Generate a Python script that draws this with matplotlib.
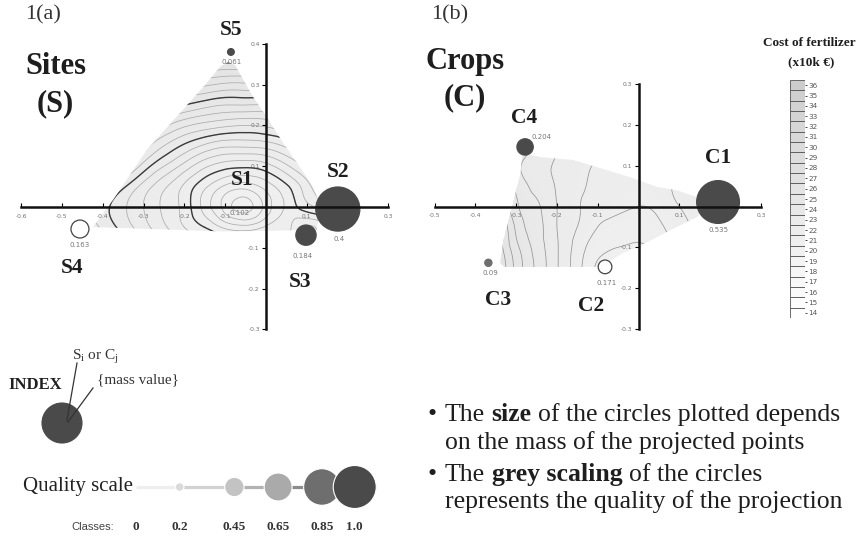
import numpy as np
import matplotlib.pyplot as plt
import matplotlib.tri as mtri
from matplotlib.patches import Polygon, Circle
from matplotlib.colors import LinearSegmentedColormap
from matplotlib.ticker import FormatStrFormatter

plt.rcParams['font.family'] = ['Liberation Serif', 'DejaVu Serif']
plt.rcParams['axes.unicode_minus'] = False
plt.rcParams['mathtext.fontset'] = 'custom'
plt.rcParams['mathtext.rm'] = 'Liberation Serif'

W, H = 867, 538

# ---------------- data ----------------
# 1(a) sites
site_names = ['S1', 'S2', 'S3', 'S4', 'S5']
site_x = [-0.065, 0.176, 0.098, -0.456, -0.086]
site_y = [0.010, -0.005, -0.069, -0.054, 0.380]
site_mass = [0.102, 0.4, 0.184, 0.163, 0.061]
site_quality = [None, 1.0, 1.0, 0.0, 1.0]   # S1 not drawn

# 1(b) crops
crop_names = ['C1', 'C2', 'C3', 'C4']
crop_x = [0.195, -0.082, -0.368, -0.278]
crop_y = [0.011, -0.148, -0.138, 0.146]
crop_mass = [0.535, 0.171, 0.09, 0.204]
crop_quality = [1.0, 0.0, 0.85, 1.0]

# cost surface, rows follow grid_a_y
grid_a_x = [-0.45, -0.40, -0.35, -0.30, -0.25, -0.20, -0.15, -0.10, -0.05, 0.00, 0.05, 0.10, 0.15]
grid_a_y = [-0.10, -0.05, 0.00, 0.05, 0.10, 0.15, 0.20, 0.25, 0.30, 0.35, 0.40]
cost_a = [
    [2.86, 2.80, 2.74, 2.68, 2.63, 2.58, 2.54, 2.53, 2.52, 2.54, 2.41, 2.31, 2.41],
    [2.80, 2.74, 2.68, 2.62, 2.56, 2.50, 2.45, 2.39, 2.37, 2.41, 2.42, 2.34, 2.42],
    [2.78, 2.72, 2.66, 2.60, 2.54, 2.48, 2.38, 2.28, 2.23, 2.32, 2.41, 2.48, 2.52],
    [2.85, 2.78, 2.71, 2.63, 2.56, 2.49, 2.41, 2.34, 2.32, 2.37, 2.44, 2.53, 2.62],
    [2.95, 2.88, 2.82, 2.73, 2.65, 2.58, 2.51, 2.47, 2.46, 2.48, 2.54, 2.61, 2.68],
    [3.06, 2.97, 2.89, 2.82, 2.75, 2.69, 2.64, 2.61, 2.61, 2.62, 2.66, 2.71, 2.77],
    [3.13, 3.06, 2.99, 2.92, 2.86, 2.81, 2.78, 2.76, 2.75, 2.76, 2.79, 2.83, 2.88],
    [3.23, 3.16, 3.09, 3.04, 2.99, 2.95, 2.92, 2.90, 2.90, 2.90, 2.93, 2.96, 3.01],
    [3.33, 3.27, 3.21, 3.16, 3.12, 3.08, 3.06, 3.04, 3.04, 3.05, 3.07, 3.10, 3.13],
    [3.44, 3.39, 3.33, 3.29, 3.25, 3.22, 3.20, 3.19, 3.19, 3.19, 3.21, 3.23, 3.27],
    [3.56, 3.51, 3.46, 3.42, 3.39, 3.36, 3.35, 3.33, 3.33, 3.34, 3.35, 3.37, 3.40],
]
domain_a_x = [-0.424, -0.375, -0.292, -0.211, -0.145, -0.113, -0.093, -0.076, -0.032,
              0.002, 0.042, 0.083, 0.115, 0.132, 0.125, -0.100]
domain_a_y = [-0.049, 0.017, 0.140, 0.230, 0.304, 0.343, 0.355, 0.348, 0.270,
              0.220, 0.157, 0.098, 0.049, 0.010, -0.056, -0.060]

# cost surface, rows follow grid_b_y
grid_b_x = [-0.40, -0.35, -0.30, -0.25, -0.20, -0.15, -0.10, -0.05, 0.00, 0.05, 0.10, 0.15, 0.20]
grid_b_y = [-0.20, -0.15, -0.10, -0.05, 0.00, 0.05, 0.10, 0.15]
cost_b = [
    [3.20, 2.90, 2.60, 2.40, 2.22, 2.03, 1.87, 1.80, 1.80, 1.86, 1.96, 2.05, 2.13],
    [3.15, 2.85, 2.57, 2.38, 2.21, 2.04, 1.88, 1.82, 1.82, 1.88, 1.98, 2.07, 2.15],
    [3.10, 2.80, 2.53, 2.36, 2.21, 2.06, 1.94, 1.90, 1.89, 1.93, 2.02, 2.10, 2.18],
    [3.00, 2.78, 2.48, 2.34, 2.20, 2.10, 2.00, 1.95, 1.93, 1.98, 2.06, 2.13, 2.20],
    [2.98, 2.68, 2.42, 2.32, 2.20, 2.11, 2.06, 2.03, 2.00, 2.03, 2.10, 2.15, 2.20],
    [2.90, 2.62, 2.38, 2.27, 2.19, 2.12, 2.08, 2.06, 2.05, 2.07, 2.12, 2.17, 2.22],
    [2.95, 2.65, 2.34, 2.25, 2.18, 2.13, 2.09, 2.08, 2.07, 2.07, 2.10, 2.14, 2.18],
    [3.05, 2.75, 2.40, 2.29, 2.21, 2.15, 2.11, 2.10, 2.09, 2.09, 2.12, 2.16, 2.20],
]
domain_b_x = [-0.285, -0.289, -0.310, -0.331, -0.339, -0.330, -0.094, -0.038, 0.000, 0.045,
              0.094, 0.143, 0.165, 0.143, 0.094, 0.045, -0.021, -0.077, -0.160, -0.241]
domain_b_y = [0.131, 0.082, 0.000, -0.082, -0.138, -0.148, -0.148, -0.114, -0.099, -0.075,
              -0.050, -0.026, 0.000, 0.023, 0.040, 0.048, 0.072, 0.089, 0.114, 0.121]

a_xticks = [-0.6, -0.5, -0.4, -0.3, -0.2, -0.1, 0.1, 0.2, 0.3]
a_yticks = [-0.3, -0.2, -0.1, 0.1, 0.2, 0.3, 0.4]
b_xticks = [-0.5, -0.4, -0.3, -0.2, -0.1, 0.1, 0.2, 0.3]
b_yticks = [-0.3, -0.2, -0.1, 0.1, 0.2, 0.3]

cost_scale = [14, 15, 16, 17, 18, 19, 20, 21, 22, 23, 24, 25,
              26, 27, 28, 29, 30, 31, 32, 33, 34, 35, 36]

quality_classes = [0, 0.2, 0.45, 0.65, 0.85, 1.0]
quality_labels = ['0', '0.2', '0.45', '0.65', '0.85', '1.0']

# ---------------- styles ----------------
class_greys = ['#ffffff', '#dadada', '#c3c3c3', '#aaaaaa', '#6e6e6e', '#4a4a4a']
segment_greys = ['#eeeeee', '#d2d2d2', '#b2b2b2', '#8c8c8c', '#6a6a6a']
fill_cmap = LinearSegmentedColormap.from_list('fill', ['#f1f1f1', '#e0e0e0'])
bar_cmap = LinearSegmentedColormap.from_list('bar', ['#ffffff', '#cdcdcd'])
INK = '#1e1e1e'

site_name_off = [(2, 16.5), (0, 26.6), (-4.3, -33.8), (-5.8, -28), (0, 15.8)]
site_mass_off = [(0, -7.2), (0.7, -21.6), (-2.2, -15.1), (0, -11.5), (0.7, -7.2)]
crop_name_off = [(0, 31.7), (-10, -28), (7.2, -26.6), (-0.7, 20.9)]
crop_mass_off = [(0, -20.2), (1.4, -11.5), (1.4, -7.2), (11.5, 7.2)]


def quality_grey(q):
    idx = int(np.argmin([abs(q - c) for c in quality_classes]))
    return class_greys[idx]


fig = plt.figure(figsize=(W / 100, H / 100), dpi=100)

# overlay in pixel coordinates for free text / legend glyphs
ov = fig.add_axes([0, 0, 1, 1])
ov.set_xlim(0, W)
ov.set_ylim(H, 0)
ov.axis('off')


def px_axes(x0, x1, y0, y1):
    return fig.add_axes([x0 / W, 1 - y1 / H, (x1 - x0) / W, (y1 - y0) / H])


def panel_axes(ox, oy, scale, xlim, ylim):
    ax = px_axes(ox + xlim[0] * scale, ox + xlim[1] * scale,
                 oy - ylim[1] * scale, oy - ylim[0] * scale)
    ax.set_xlim(xlim)
    ax.set_ylim(ylim)
    ax.patch.set_alpha(0)
    return ax


def draw_surface(ax, gx, gy, z, domx, domy, levels, bold, vmin, vmax, line_col):
    X, Y = np.meshgrid(gx, gy)
    tri = mtri.Triangulation(X.ravel(), Y.ravel())
    tri_f, z_f = mtri.UniformTriRefiner(tri).refine_field(np.ravel(z), subdiv=3)
    clip = Polygon(np.column_stack([domx, domy]), closed=True, fc='none', ec='none')
    ax.add_patch(clip)
    cf = ax.tricontourf(tri_f, z_f, levels=np.linspace(vmin - 0.5, vmax + 0.5, 60),
                        cmap=fill_cmap, vmin=vmin, vmax=vmax)
    cf.set_clip_path(clip)
    cs = ax.tricontour(tri_f, z_f, levels=levels, colors=line_col, linewidths=0.55)
    cs.set_clip_path(clip)
    if bold:
        cb = ax.tricontour(tri_f, z_f, levels=bold, colors='#3c3c3c', linewidths=1.0)
        cb.set_clip_path(clip)


def style_axes(ax, xb, yb, xticks, yticks):
    for s in ('top', 'right'):
        ax.spines[s].set_visible(False)
    for s, b in (('bottom', xb), ('left', yb)):
        ax.spines[s].set_position(('data', 0))
        ax.spines[s].set_bounds(*b)
        ax.spines[s].set_linewidth(1.8)
        ax.spines[s].set_color('#111111')
        ax.spines[s].set_zorder(3)
    ax.set_xticks(xticks)
    ax.set_yticks(yticks)
    ax.xaxis.set_major_formatter(FormatStrFormatter('%.1f'))
    ax.yaxis.set_major_formatter(FormatStrFormatter('%.1f'))
    ax.tick_params(axis='x', direction='in', length=3, width=0.8, pad=5,
                   labelsize=4.3, labelcolor='#707070', labelfontfamily='DejaVu Sans')
    ax.tick_params(axis='y', direction='out', length=3, width=0.8, pad=1.5,
                   labelsize=4.3, labelcolor='#707070', labelfontfamily='DejaVu Sans')


def draw_points(ax, names, xs, ys, mass, quality, rscale, name_off, mass_off):
    for n, x, y, m, q, no, mo in zip(names, xs, ys, mass, quality, name_off, mass_off):
        if q is not None:
            face = quality_grey(q)
            edge = '#444444' if q < 0.1 else face
            ax.add_patch(Circle((x, y), m * rscale, fc=face, ec=edge, lw=0.9, zorder=2.2))
        ax.annotate(n, (x, y), xytext=no, textcoords='offset points', ha='center',
                    va='center', fontsize=15.5, fontweight='bold', color=INK, zorder=4)
        ax.annotate(f'{m:g}', (x, y), xytext=mo, textcoords='offset points', ha='center',
                    va='center', fontsize=5, color='#777777', family='DejaVu Sans', zorder=4)


# ---------------- panel (a) ----------------
ax_a = panel_axes(266, 207, 408, (-0.62, 0.32), (-0.32, 0.42))
draw_surface(ax_a, grid_a_x, grid_a_y, cost_a, domain_a_x, domain_a_y,
             np.arange(2.25, 3.45, 0.05), [2.45, 2.70, 2.95, 3.20], 2.2, 3.5, '#ababab')
style_axes(ax_a, (-0.6, 0.3), (-0.3, 0.4), a_xticks, a_yticks)
draw_points(ax_a, site_names, site_x, site_y, site_mass, site_quality, 0.135,
            site_name_off, site_mass_off)

# ---------------- panel (b) ----------------
ax_b = panel_axes(638.5, 206.5, 408, (-0.52, 0.32), (-0.32, 0.32))
draw_surface(ax_b, grid_b_x, grid_b_y, cost_b, domain_b_x, domain_b_y,
             np.arange(1.9, 2.95, 0.1), None, 1.8, 3.0, '#959595')
style_axes(ax_b, (-0.5, 0.3), (-0.3, 0.3), b_xticks, b_yticks)
draw_points(ax_b, crop_names, crop_x, crop_y, crop_mass, crop_quality, 0.098,
            crop_name_off, crop_mass_off)

# panel titles
ov.text(43, 15, '1(a)', fontsize=16, ha='center', va='center', color='#333333')
ov.text(450, 15, '1(b)', fontsize=16, ha='center', va='center', color='#333333')
ov.text(56, 66, 'Sites', fontsize=22, fontweight='bold', ha='center', va='center', color=INK)
ov.text(55, 104, '(S)', fontsize=22, fontweight='bold', ha='center', va='center', color=INK)
ov.text(465, 62, 'Crops', fontsize=22, fontweight='bold', ha='center', va='center', color=INK)
ov.text(465, 98, '(C)', fontsize=22, fontweight='bold', ha='center', va='center', color=INK)

# ---------------- cost scale ----------------
cax = px_axes(790, 805, 80, 318)
n = len(cost_scale)
lo, hi = cost_scale[0], cost_scale[-1]
cax.bar([0] * n, [1] * n, bottom=list(range(n)), width=1,
        color=[bar_cmap((v - lo) / (hi - lo)) for v in cost_scale],
        edgecolor='#555555', linewidth=0.6)
cax.set_xlim(-0.5, 0.5)
cax.set_ylim(0, n)
cax.set_xticks([])
cax.set_yticks(np.arange(n) + 0.5, labels=[str(v) for v in cost_scale])
cax.yaxis.tick_right()
cax.tick_params(axis='y', length=1.5, width=0.5, pad=1, labelsize=5.2,
                labelcolor='#555555', labelfontfamily='DejaVu Sans')
for s in cax.spines.values():
    s.set_visible(False)
ov.text(809, 43, 'Cost of fertilizer', fontsize=9.5, fontweight='bold',
        ha='center', va='center', color=INK)
ov.text(811, 62, '(x10k €)', fontsize=9.5, fontweight='bold',
        ha='center', va='center', color=INK)

# ---------------- index legend ----------------
ov.text(35, 385, 'INDEX', fontsize=12, fontweight='bold', ha='center', va='center', color=INK)
ov.text(72, 357, r'S$_{\rm i}$ or C$_{\rm j}$', fontsize=11, ha='left', va='center', color='#333333')
ov.text(97, 380, '{mass value}', fontsize=11, ha='left', va='center', color='#333333')
ov.add_patch(Circle((62, 423), 20, fc=class_greys[-1], ec=class_greys[-1], lw=0.8))
ov.plot([77, 67], [363, 420], color='#333333', lw=0.9)
ov.plot([93, 68], [388, 422], color='#333333', lw=0.9)

# ---------------- quality scale ----------------
ov.text(23, 486, 'Quality scale', fontsize=15, ha='left', va='center', color='#222222')
qax = px_axes(114, 381, 462, 512)
qax.set_xlim(-0.1, 1.12)
qax.set_ylim(-1, 1)
qax.axis('off')
for i in range(len(quality_classes) - 1):
    qax.plot(quality_classes[i:i + 2], [0, 0], color=segment_greys[i], lw=2.3,
             solid_capstyle='butt', zorder=1)
qax.scatter(quality_classes, [0] * len(quality_classes),
            s=[(2 * 21.5 * q * 0.72) ** 2 for q in quality_classes],
            c=[quality_grey(q) for q in quality_classes],
            edgecolors='white', linewidths=0.8, zorder=2, clip_on=False)
for q, lab in zip(quality_classes, quality_labels):
    qax.text(q, -1.6, lab, fontsize=9.5, fontweight='bold', ha='center', va='center',
             color='#333333', clip_on=False)
ov.text(93, 527, 'Classes:', fontsize=8, family='Liberation Sans', ha='center',
        va='center', color='#444444')


# ---------------- notes ----------------
def rich_line(x, y, parts, size=18.5):
    t = None
    for txt, weight in parts:
        if t is None:
            t = ov.text(x, y, txt, fontsize=size, fontweight=weight, ha='left',
                        va='center', color=INK)
        else:
            t = ov.annotate(txt, xy=(1, 0), xycoords=t, xytext=(0.25 * size, 0),
                            textcoords='offset points', ha='left', va='bottom',
                            fontsize=size, fontweight=weight, color=INK)


ov.text(432, 415, '•', fontsize=18.5, ha='center', va='center', color=INK)
ov.text(432, 475, '•', fontsize=18.5, ha='center', va='center', color=INK)
rich_line(445, 415, [('The', 'normal'), ('size', 'bold'),
                     ('of the circles plotted depends', 'normal')])
rich_line(445, 443, [('on the mass of the projected points', 'normal')])
rich_line(445, 475, [('The', 'normal'), ('grey scaling', 'bold'),
                     ('of the circles', 'normal')])
rich_line(445, 502, [('represents the quality of the projection', 'normal')])

fig.savefig('out.png', dpi=100)
